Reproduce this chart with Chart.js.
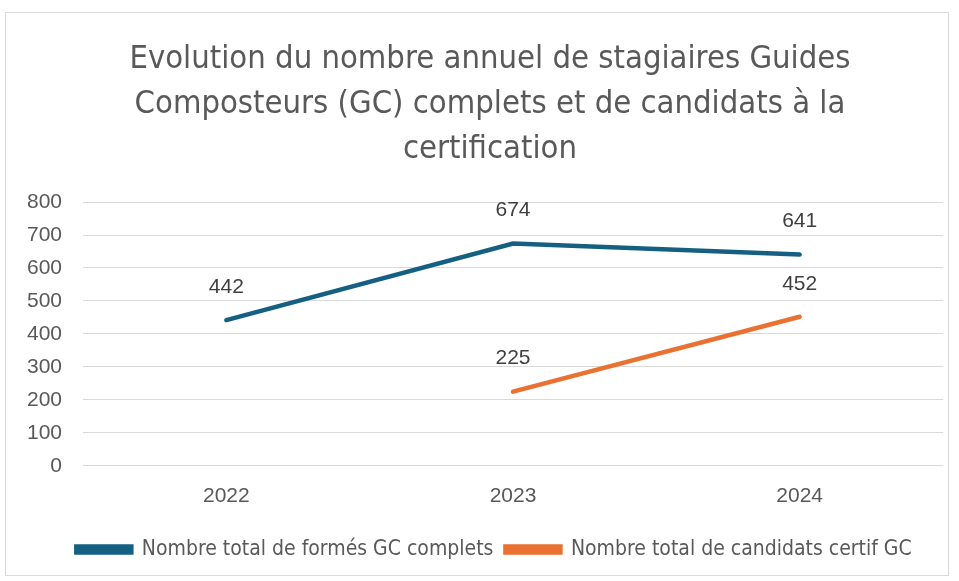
<!DOCTYPE html>
<html>
<head>
<meta charset="utf-8">
<script src="https://cdn.jsdelivr.net/npm/chart.js@4.4.1/dist/chart.umd.min.js"></script>
<style>
    body { margin: 0; background: #fff; }
    #wrap { position: absolute; left: 5px; top: 12px; width: 942px; height: 562px; border: 1px solid #d9d9d9; }
</style>
</head>
<body>
<div id="wrap"><canvas id="chart"></canvas></div>
<script>
const annees = ['2022', '2023', '2024'];
const formesGC = [442, 674, 641];
const candidatsCertif = [null, 225, 452];
const ticksY = [0, 100, 200, 300, 400, 500, 600, 700, 800];

// étiquettes de valeurs au-dessus des points + titre/légende un peu décalés à droite
const etiquettes = {
    id: 'etiquettes',
    beforeDraw(chart) {
        if (!chart._decale) {
            chart.legend.left += 17;
            chart.legend.right += 17;
            chart.titleBlock.left += 13;
            chart.titleBlock.right += 13;
            chart._decale = true;
        }
    },
    afterDatasetsDraw(chart) {
        const ctx = chart.ctx;
        ctx.save();
        ctx.font = '21px "Liberation Sans", Arial';
        ctx.fillStyle = '#404040';
        ctx.textAlign = 'center';
        ctx.textBaseline = 'middle';
        chart.data.datasets.forEach((ds, i) => {
            chart.getDatasetMeta(i).data.forEach((pt, j) => {
                if (ds.data[j] == null) return;
                ctx.fillText(ds.data[j], pt.x, pt.y - 33);
            });
        });
        ctx.restore();
    }
};

const ctx = document.getElementById('chart').getContext('2d');
new Chart(ctx, {
    type: 'line',
    data: {
        labels: annees,
        datasets: [{
            label: 'Nombre total de formés GC complets',
            data: formesGC,
            borderColor: '#156082',
            backgroundColor: '#156082',
            borderWidth: 4.5,
            borderCapStyle: 'round',
            pointRadius: 0,
            tension: 0
        }, {
            label: 'Nombre total de candidats certif GC',
            data: candidatsCertif,
            borderColor: '#E97132',
            backgroundColor: '#E97132',
            borderWidth: 4.5,
            borderCapStyle: 'round',
            pointRadius: 0,
            tension: 0
        }]
    },
    options: {
        responsive: true,
        maintainAspectRatio: false,
        animation: false,
        layout: { padding: { left: 5, right: 5, top: 10, bottom: 5 } },
        scales: {
            x: {
                offset: true,
                grid: { display: false, drawTicks: false },
                border: { display: false },
                ticks: {
                    font: { size: 21, family: '"Liberation Sans", Arial' },
                    color: '#595959',
                    padding: 18
                }
            },
            y: {
                min: 0,
                max: 800,
                afterBuildTicks: axis => { axis.ticks = ticksY.map(v => ({ value: v })); },
                afterFit: axis => { axis.width = 72; },
                grid: { color: '#d9d9d9', lineWidth: 1, drawTicks: false },
                border: { display: false },
                ticks: {
                    font: { size: 21, family: '"Liberation Sans", Arial' },
                    color: '#595959',
                    padding: 21
                }
            }
        },
        plugins: {
            title: {
                display: true,
                text: ['Evolution du nombre annuel de stagiaires Guides', 'Composteurs (GC) complets et de candidats à la', 'certification'],
                font: { size: 32.5, family: '"Liberation Sans Narrow", "DejaVu Sans Condensed", Arial', weight: 'normal', lineHeight: 1.385 },
                color: '#595959',
                padding: { top: 14.5, bottom: 29.5 }
            },
            legend: {
                position: 'bottom',
                labels: {
                    boxWidth: 55,
                    boxHeight: 6,
                    padding: 12,
                    font: { size: 21, family: '"Liberation Sans Narrow", "DejaVu Sans Condensed", Arial' },
                    color: '#595959'
                }
            },
            tooltip: { enabled: false }
        }
    },
    plugins: [etiquettes]
});
</script>
</body>
</html>
